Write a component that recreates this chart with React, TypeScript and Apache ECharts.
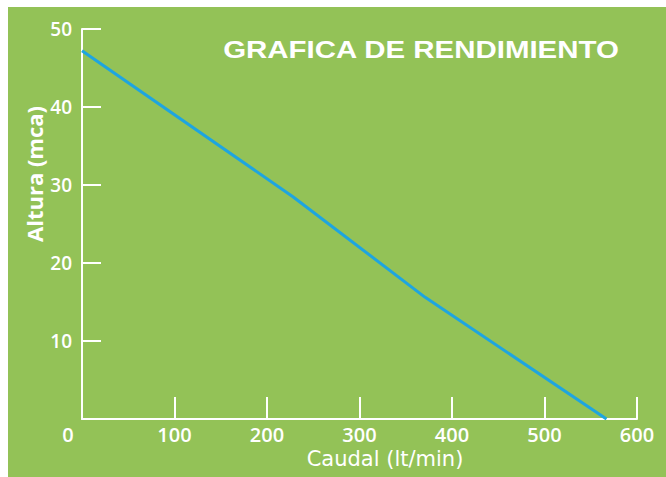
import React, { useEffect, useRef } from "react";
import * as echarts from "echarts";

const flowValues = [0, 228, 371, 567];
const headValues = [47.2, 28.5, 15.6, 0];
const xTicks = [0, 100, 200, 300, 400, 500, 600];
const yTicks = [0, 10, 20, 30, 40, 50];
const titleText = "GRAFICA DE RENDIMIENTO";
const xName = "Caudal (lt/min)";
const yName = "Altura (mca)";

const GREEN = "#93C257";
const BLUE = "#1EA5E0";

export default function App() {
  const ref = useRef<HTMLDivElement>(null);
  useEffect(() => {
    if (!ref.current) return;
    const chart = echarts.init(ref.current, undefined, { renderer: "svg" });
    chart.setOption({
      animation: false,
      backgroundColor: GREEN,
      grid: { left: 74, top: 22, right: 29, bottom: 58 },
      graphic: [
        {
          type: "text",
          x: 413,
          y: 43,
          scaleX: 1.28,
          style: {
            text: titleText,
            fill: "#fff",
            font: "bold 23px 'Liberation Sans', Arial, sans-serif",
            align: "center",
            verticalAlign: "middle",
          },
        },
        {
          type: "text",
          x: 26,
          y: 167,
          rotation: Math.PI / 2,
          style: {
            text: yName,
            fill: "#fff",
            font: "bold 22px 'Open Sans', sans-serif",
            align: "center",
            verticalAlign: "middle",
          },
        },
      ],
      xAxis: {
        type: "value",
        min: xTicks[0],
        max: xTicks[xTicks.length - 1],
        interval: 100,
        name: xName,
        nameLocation: "middle",
        nameGap: 29,
        nameTextStyle: {
          color: "#fff",
          fontFamily: "'DejaVu Sans', sans-serif",
          fontSize: 21,
          padding: [0, 0, 0, 51],
        },
        axisLine: { show: true, lineStyle: { color: "#fff", width: 2 } },
        axisTick: { show: true, inside: true, length: 22, lineStyle: { color: "#fff", width: 2 } },
        splitLine: { show: false },
        axisLabel: {
          margin: 5,
          color: "#fff",
          fontFamily: "'Open Sans', sans-serif",
          fontWeight: 600,
          fontSize: 20,
          formatter: (v: number) => (v === 0 ? "{z|0}" : String(v)),
          rich: {
            z: {
              color: "#fff",
              fontFamily: "'Open Sans', sans-serif",
              fontWeight: 600,
              fontSize: 20,
              padding: [0, 28, 0, 0],
            },
          },
        },
      },
      yAxis: {
        type: "value",
        min: yTicks[0],
        max: yTicks[yTicks.length - 1],
        interval: 10,
        axisLine: { show: true, lineStyle: { color: "#fff", width: 2 } },
        axisTick: { show: true, inside: true, length: 19, lineStyle: { color: "#fff", width: 2 } },
        splitLine: { show: false },
        axisLabel: {
          margin: 10,
          color: "#fff",
          fontFamily: "'Open Sans', sans-serif",
          fontWeight: 600,
          fontSize: 19,
          formatter: (v: number) => (v === 0 ? "" : String(v)),
        },
      },
      series: [
        {
          type: "line",
          data: flowValues.map((f, i) => [f, headValues[i]]),
          showSymbol: false,
          symbol: "none",
          lineStyle: { color: BLUE, width: 3 },
        },
      ],
    });
    return () => chart.dispose();
  }, []);
  return (
    <div style={{ position: "fixed", left: 0, top: 0, width: 666, height: 477, background: "#fff" }}>
      <div ref={ref} style={{ position: "absolute", left: 8, top: 7, width: 658, height: 470 }} />
    </div>
  );
}
